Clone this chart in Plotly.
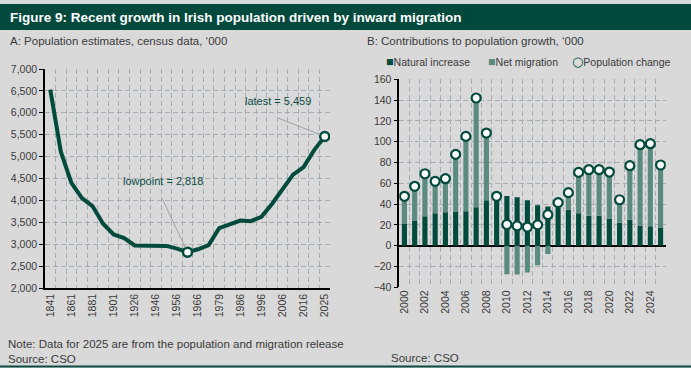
import plotly.graph_objects as go

# ---------------- data ----------------
census_years = ["1841", "1851", "1861", "1871", "1881", "1891", "1901", "1911", "1926",
                "1936", "1946", "1951", "1956", "1961", "1966", "1971", "1979", "1981",
                "1986", "1991", "1996", "2002", "2006", "2011", "2016", "2022", "2025"]
population = [6529, 5112, 4402, 4053, 3870, 3469, 3222, 3140, 2972,
              2968, 2955, 2961, 2898, 2818, 2884, 2978, 3368, 3443,
              3541, 3526, 3626, 3917, 4240, 4588, 4762, 5149, 5459]
census_labels = ["1841", "", "1861", "", "1881", "", "1901", "", "1926", "", "1946", "", "1956", "",
                 "1966", "", "1979", "", "1986", "", "1996", "", "2006", "", "2016", "", "2025"]

years = ["2000", "2001", "2002", "2003", "2004", "2005", "2006", "2007", "2008", "2009",
         "2010", "2011", "2012", "2013", "2014", "2015", "2016", "2017", "2018", "2019",
         "2020", "2021", "2022", "2023", "2024", "2025"]
year_labels = ["2000", "", "2002", "", "2004", "", "2006", "", "2008", "",
               "2010", "", "2012", "", "2014", "", "2016", "", "2018", "",
               "2020", "", "2022", "", "2024", ""]
natural_increase = [20.8, 24.2, 28.2, 31.1, 32.1, 33.0, 33.2, 36.9, 43.8, 47.0,
                    47.8, 46.6, 43.6, 38.8, 37.8, 36.8, 34.6, 31.1, 28.8, 28.8,
                    26.2, 22.1, 25.0, 19.2, 18.6, 17.5]
net_migration = [26.7, 32.9, 41.0, 30.8, 32.3, 54.8, 71.9, 105.1, 64.5, 0.5,
                 -27.4, -27.6, -25.7, -18.8, -8.0, 4.6, 16.4, 39.4, 44.3, 44.3,
                 44.6, 22.1, 51.9, 77.9, 79.5, 60.1]
population_change = [47.5, 57.1, 69.2, 61.9, 64.4, 87.8, 105.1, 142.0, 108.3, 47.5,
                     20.4, 19.0, 17.9, 20.0, 29.8, 41.4, 51.0, 70.5, 73.1, 73.1,
                     70.8, 44.2, 76.9, 97.1, 98.1, 77.6]

# ---------------- style ----------------
W, H = 691, 368
BG = "#d9d9d9"
DARK = "#004b3c"
LIGHT = "#5b8b7f"
GRID = "#a9adb2"
TXT = "#3a3a3a"
ANN = "#0d4d44"
FONT = "Liberation Sans, Arial, sans-serif"


def px_x(p):
    return p / W


def px_y(p):
    return 1 - p / H


fig = go.Figure()

# Panel A: population line
fig.add_trace(go.Scatter(
    x=census_years, y=population, mode="lines",
    line=dict(color=DARK, width=4), xaxis="x", yaxis="y", showlegend=False,
    hoverinfo="x+y"))
low_i = population.index(min(population))
last_i = len(population) - 1
fig.add_trace(go.Scatter(
    x=[census_years[low_i], census_years[last_i]], y=[population[low_i], population[last_i]],
    mode="markers",
    marker=dict(size=9, color="white", line=dict(color=DARK, width=2.5)),
    xaxis="x", yaxis="y", showlegend=False))

# Panel B: stacked bars + markers
fig.add_trace(go.Bar(x=years, y=natural_increase, name="Natural increase",
                     marker=dict(color=DARK, line=dict(width=0)),
                     xaxis="x2", yaxis="y2", showlegend=False))
fig.add_trace(go.Bar(x=years, y=net_migration, name="Net migration",
                     marker=dict(color=LIGHT, line=dict(width=0)),
                     xaxis="x2", yaxis="y2", showlegend=False))
fig.add_trace(go.Scatter(x=years, y=population_change, name="Population change",
                         mode="markers",
                         marker=dict(size=9, color="white", line=dict(color=DARK, width=2.2)),
                         xaxis="x2", yaxis="y2", showlegend=False))

grid_common = dict(showgrid=True, gridcolor=GRID, gridwidth=1, griddash="5px,3px",
                   automargin=False)

fig.update_layout(
    width=W, height=H,
    margin=dict(l=0, r=0, t=0, b=0, pad=0),
    paper_bgcolor=BG, plot_bgcolor=BG,
    font=dict(family=FONT, color=TXT, size=10.5),
    barmode="relative", bargap=0.5,
    xaxis=dict(domain=[px_x(45), px_x(330)], anchor="y", type="category",
               categoryorder="array", categoryarray=census_years,
               range=[-0.5, len(census_years) - 0.5], autorange=False,
               tickmode="array", tickvals=census_years, ticktext=census_labels,
               tickson="boundaries", tickangle=-90, ticks="", ticklen=0,
               showline=True, linecolor="black", linewidth=1.5,
               tickfont=dict(size=10.5, color=TXT), **grid_common),
    yaxis=dict(domain=[px_y(288), px_y(69)], anchor="x", range=[2000, 7000],
               dtick=500, tickformat=",", ticks="outside", ticklen=4, tickcolor="black",
               showline=True, linecolor="black", linewidth=1.5, zeroline=False,
               tickfont=dict(size=10.5, color=TXT), **grid_common),
    xaxis2=dict(domain=[px_x(399.3), px_x(665.7)], anchor="y2", type="category",
                range=[-0.5, len(years) - 0.5], autorange=False,
                tickmode="array", tickvals=years, ticktext=year_labels,
                tickson="boundaries", tickangle=-90, ticks="", ticklen=0,
                showline=False, tickfont=dict(size=10.5, color=TXT), **grid_common),
    yaxis2=dict(domain=[px_y(287.3), px_y(79.3)], anchor="x2", range=[-40, 160],
                dtick=20, ticks="outside", ticklen=4, tickcolor="black",
                showline=True, linecolor="black", linewidth=1.5,
                zeroline=True, zerolinecolor="black", zerolinewidth=1.5,
                tickfont=dict(size=10.5, color=TXT), **grid_common),
)

shapes = [
    dict(type="rect", xref="paper", yref="paper", x0=0, x1=1, y0=px_y(30), y1=px_y(4),
         fillcolor="#00493c", line=dict(width=0), layer="below"),
    dict(type="line", xref="paper", yref="paper", x0=0, x1=1, y0=px_y(366.5), y1=px_y(366.5),
         line=dict(color="#0b4d40", width=2)),
]
fig.update_layout(shapes=shapes)

ann = []
ann.append(dict(text="<b>Figure 9: Recent growth in Irish population driven by inward migration</b>",
                x=px_x(8), y=px_y(17), xref="paper", yref="paper", xanchor="left", yanchor="middle",
                showarrow=False, font=dict(size=13.5, color="white", family=FONT)))
ann.append(dict(text="A: Population estimates, census data, ‘000",
                x=px_x(8), y=px_y(41), xref="paper", yref="paper", xanchor="left", yanchor="middle",
                showarrow=False, font=dict(size=11.5, color=TXT)))
ann.append(dict(text="B: Contributions to population growth, ‘000",
                x=px_x(365), y=px_y(41), xref="paper", yref="paper", xanchor="left", yanchor="middle",
                showarrow=False, font=dict(size=11.5, color=TXT)))
ann.append(dict(text="Note: Data for 2025 are from the population and migration release<br>Source: CSO",
                x=px_x(6), y=px_y(351.5), xref="paper", yref="paper", xanchor="left", yanchor="middle",
                align="left", showarrow=False, font=dict(size=11.5, color=TXT)))
ann.append(dict(text="Source: CSO",
                x=px_x(389), y=px_y(357.5), xref="paper", yref="paper", xanchor="left", yanchor="middle",
                showarrow=False, font=dict(size=11.5, color=TXT)))

# legend (panel B)
leg_items = [
    (384, f"<span style='color:{DARK};font-size:12.5px'>■</span>Natural increase"),
    (486, f"<span style='color:{LIGHT};font-size:12.5px'>■</span>Net migration"),
    (570, f"<span style='color:{DARK};font-size:13px;font-weight:bold;font-family:DejaVu Sans'>○</span>Population change"),
]
for xpix, t in leg_items:
    ann.append(dict(text=t, x=px_x(xpix), y=px_y(62), xref="paper", yref="paper",
                    xanchor="left", yanchor="middle", showarrow=False,
                    font=dict(size=10.5, color=TXT)))

# callouts (panel A) — leader line + label, positioned by category index
callouts = [
    (low_i, f"lowpoint = {population[low_i]:,}", -26, -55, -25, 71),
    (last_i, f"latest = {population[last_i]:,}", -48, -19, -47, 36),
]
for idx, label, ax, ay, xs, ys in callouts:
    ann.append(dict(text=" ", x=idx, y=population[idx], xref="x", yref="y",
                    showarrow=True, arrowhead=0, arrowwidth=1, arrowcolor="#a3a3a3",
                    ax=ax, ay=ay, standoff=5, font=dict(size=1)))
    ann.append(dict(text=label, x=idx, y=population[idx], xref="x", yref="y",
                    showarrow=False, xshift=xs, yshift=ys,
                    font=dict(size=11, color=ANN)))
fig.update_layout(annotations=ann)

# remove the browser's default 8px page margin so the figure fills the window
page_css = ("document.body.style.margin='0px';"
            "document.body.style.padding='0px';"
            "document.body.style.background='%s';"
            "document.body.style.overflow='hidden';" % BG)
fig.write_html("out.html", post_script=page_css, config={"displayModeBar": False})
